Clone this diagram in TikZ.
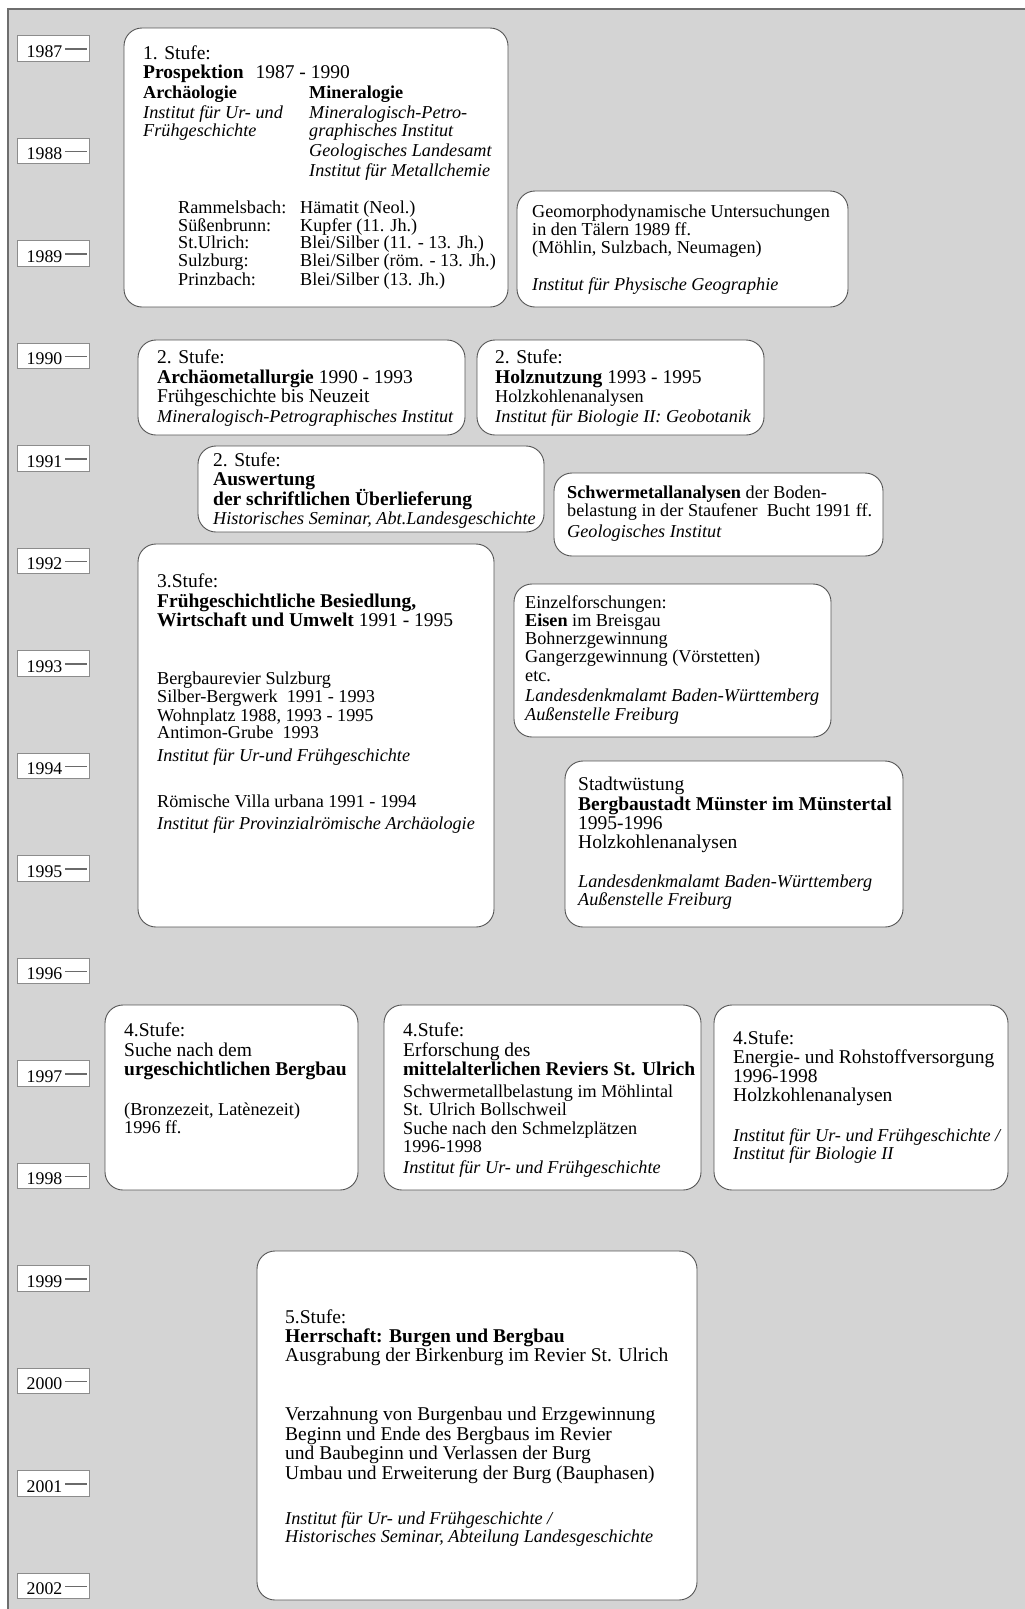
\documentclass[tikz,border=0pt]{standalone}
\usepackage{fontspec}
\setmainfont{Liberation Serif}
\definecolor{bg}{HTML}{D4D4D4}
\definecolor{bgline}{HTML}{6E6E6E}
\definecolor{boxline}{HTML}{555555}
\definecolor{yearline}{HTML}{8C8C8C}
\definecolor{tickgray}{HTML}{6A6A6A}
\newcommand\fsN{\fontsize{18.2pt}{18pt}\selectfont}
\newcommand\fsB{\fontsize{19.5pt}{19.5pt}\selectfont}
\newcommand\fsY{\fontsize{17.8pt}{17.8pt}\selectfont}
\tikzset{
  stage/.style={draw=boxline, fill=white, line width=0.9pt, rounded corners=18pt, inner sep=0pt, outer sep=0pt, anchor=north west},
  yearbox/.style={draw=yearline, fill=white, line width=0.9pt, minimum width=72pt, minimum height=25.5pt, inner sep=0pt},
  yeartxt/.style={anchor=base west, inner sep=0pt, font=\fsY},
  ntx/.style={anchor=base west, inner sep=0pt, font=\fsN},
  btx/.style={anchor=base west, inner sep=0pt, font=\fsB},
  itx/.style={anchor=base west, inner sep=0pt, font=\fsN\itshape},
}
\newcommand\stagebox[5]{\node[stage, minimum width=#4pt, minimum height=#5pt] (#1) at (#2,#3) {};}
\begin{document}
\begin{tikzpicture}[x=1pt, y=-1pt]
\useasboundingbox (0,0) rectangle (1025,1609);
\clip (0,0) rectangle (1025,1609);
% background panel
\fill[bg] (8,9) rectangle (1040,1620);
\draw[bgline, line width=1.2pt] (8,1620) -- (8,9) -- (1040,9);

% year scale
\foreach \yr [count=\k from 0] in {1987,...,2002} {
  \node[yearbox] (yb\yr) at (53, 48.5+102.5*\k) {};
  \node[yeartxt] (yl\yr) at (26.5, 57+102.5*\k) {\yr\hspace{2.8pt}\textcolor{tickgray}{\rule[7.3pt]{21.5pt}{1.3pt}}};
}

% ---------- stage boxes ----------
\stagebox{s1}{124}{28}{384}{279}
\stagebox{s2}{517}{191}{331}{116}
\stagebox{s3}{138}{340}{327}{95}
\stagebox{s4}{477}{340}{287}{95}
\stagebox{s5}{198}{446}{346}{86}
\stagebox{s6}{554}{473}{329}{83}
\stagebox{s7}{138}{544}{356}{383}
\stagebox{s8}{514}{584}{317}{153}
\stagebox{s9}{565}{761}{338}{166}
\stagebox{s10}{105}{1005}{253}{185}
\stagebox{s11}{384}{1005}{317}{185}
\stagebox{s12}{714}{1005}{294}{185}
\stagebox{s13}{257}{1251}{440}{349}

% ---------- box 1 ----------
\node[btx] (b1a) at (143,59.3) {1. Stufe:};
\node[btx] (b1b) at (143,78.3) {\textbf{Prospektion}\hspace{12pt}1987 - 1990};
\node[ntx] (b1c) at (143,98.8) {\textbf{Archäologie}};
\node[ntx] (b1d) at (309,98.8) {\textbf{Mineralogie}};
\node[itx] (b1e) at (143,118.3) {Institut für Ur- und};
\node[itx] (b1f) at (309,118.3) {Mineralogisch-Petro-};
\node[itx] (b1g) at (143,136) {Frühgeschichte};
\node[itx] (b1h) at (309,136) {graphisches Institut};
\node[itx] (b1i) at (309,156.7) {Geologisches Landesamt};
\node[itx] (b1j) at (309,176.7) {Institut für Metallchemie};
\node[ntx] (b1k) at (178,213.3) {Rammelsbach:};
\node[ntx] (b1l) at (300,213.3) {Hämatit (Neol.)};
\node[ntx] (b1m) at (178,231) {Süßenbrunn:};
\node[ntx] (b1n) at (300,231) {Kupfer (11. Jh.)};
\node[ntx] (b1o) at (178,248.7) {St.Ulrich:};
\node[ntx] (b1p) at (300,248.7) {Blei/Silber (11. - 13. Jh.)};
\node[ntx] (b1q) at (178,266.7) {Sulzburg:};
\node[ntx] (b1r) at (300,266.7) {Blei/Silber (röm. - 13. Jh.)};
\node[ntx] (b1s) at (178,285) {Prinzbach:};
\node[ntx] (b1t) at (300,285) {Blei/Silber (13. Jh.)};

% ---------- box 2 ----------
\node[ntx] (b2a) at (532,217.5) {Geomorphodynamische Untersuchungen};
\node[ntx] (b2b) at (532,235.5) {in den Tälern 1989 ff.};
\node[ntx] (b2c) at (532,253.5) {(Möhlin, Sulzbach, Neumagen)};
\node[itx] (b2d) at (532,290) {Institut für Physische Geographie};

% ---------- box 3 ----------
\node[btx] (b3a) at (157,363) {2. Stufe:};
\node[btx] (b3b) at (157,383) {\textbf{Archäometallurgie} 1990 - 1993};
\node[btx] (b3c) at (157,402.5) {Frühgeschichte bis Neuzeit};
\node[itx] (b3d) at (157,422) {Mineralogisch-Petrographisches Institut};

% ---------- box 4 ----------
\node[btx] (b4a) at (495,363) {2. Stufe:};
\node[btx] (b4b) at (495,383) {\textbf{Holznutzung} 1993 - 1995};
\node[ntx] (b4c) at (495,402.5) {Holzkohlenanalysen};
\node[itx] (b4d) at (495,422) {Institut für Biologie II: Geobotanik};

% ---------- box 5 ----------
\node[btx] (b5a) at (213,466) {2. Stufe:};
\node[btx] (b5b) at (213,485.5) {\textbf{Auswertung}};
\node[btx] (b5c) at (213,505) {\textbf{der schriftlichen Überlieferung}};
\node[itx] (b5d) at (213,524.5) {Historisches Seminar, Abt.Landesgeschichte};

% ---------- box 6 ----------
\node[ntx] (b6a) at (567,498) {\textbf{Schwermetallanalysen} der Boden-};
\node[ntx] (b6b) at (567,516) {belastung in der Staufener\ \ Bucht 1991 ff.};
\node[itx] (b6c) at (567,537) {Geologisches Institut};

% ---------- box 7 ----------
\node[btx] (b7a) at (157,587.5) {3.Stufe:};
\node[btx] (b7b) at (157,607) {\textbf{Frühgeschichtliche Besiedlung,}};
\node[btx] (b7c) at (157,626.5) {\textbf{Wirtschaft und Umwelt} 1991 - 1995};
\node[ntx] (b7d) at (157,684) {Bergbaurevier Sulzburg};
\node[ntx] (b7e) at (157,702.5) {Silber-Bergwerk\ \ 1991 - 1993};
\node[ntx] (b7f) at (157,721) {Wohnplatz 1988, 1993 - 1995};
\node[ntx] (b7g) at (157,738.5) {Antimon-Grube\ \ 1993};
\node[itx] (b7h) at (157,761) {Institut für Ur-und Frühgeschichte};
\node[ntx] (b7i) at (157,807) {Römische Villa urbana 1991 - 1994};
\node[itx] (b7j) at (157,829.5) {Institut für Provinzialrömische Archäologie};

% ---------- box 8 ----------
\node[ntx] (b8a) at (525,608) {Einzelforschungen:};
\node[ntx] (b8b) at (525,626) {\textbf{Eisen} im Breisgau};
\node[ntx] (b8c) at (525,644.3) {Bohnerzgewinnung};
\node[ntx] (b8d) at (525,662.7) {Gangerzgewinnung (Vörstetten)};
\node[ntx] (b8e) at (525,681) {etc.};
\node[itx] (b8f) at (525,701.5) {Landesdenkmalamt Baden-Württemberg};
\node[itx] (b8g) at (525,720.2) {Außenstelle Freiburg};

% ---------- box 9 ----------
\node[btx] (b9a) at (578,790.8) {Stadtwüstung};
\node[btx] (b9b) at (578,810) {\textbf{Bergbaustadt Münster im Münstertal}};
\node[btx] (b9c) at (578,829) {1995-1996};
\node[btx] (b9d) at (578,848.8) {Holzkohlenanalysen};
\node[itx] (b9e) at (578,887) {Landesdenkmalamt Baden-Württemberg};
\node[itx] (b9f) at (578,905) {Außenstelle Freiburg};

% ---------- box 10 ----------
\node[btx] (b10a) at (124,1036.4) {4.Stufe:};
\node[btx] (b10b) at (124,1056) {Suche nach dem};
\node[btx] (b10c) at (124,1075.5) {\textbf{urgeschichtlichen Bergbau}};
\node[ntx] (b10d) at (124,1115) {(Bronzezeit, Latènezeit)};
\node[ntx] (b10e) at (124,1133) {1996 ff.};

% ---------- box 11 ----------
\node[btx] (b11a) at (403,1036.4) {4.Stufe:};
\node[btx] (b11b) at (403,1056) {Erforschung des};
\node[btx] (b11c) at (403,1075.5) {\textbf{mittelalterlichen Reviers St. Ulrich}};
\node[ntx] (b11d) at (403,1097.6) {Schwermetallbelastung im Möhlintal};
\node[ntx] (b11e) at (403,1115.5) {St. Ulrich Bollschweil};
\node[ntx] (b11f) at (403,1134) {Suche nach den Schmelzplätzen};
\node[ntx] (b11g) at (403,1152.5) {1996-1998};
\node[itx] (b11h) at (403,1173) {Institut für Ur- und Frühgeschichte};

% ---------- box 12 ----------
\node[btx] (b12a) at (733,1044.2) {4.Stufe:};
\node[btx] (b12b) at (733,1063.6) {Energie- und Rohstoffversorgung};
\node[btx] (b12c) at (733,1082.6) {1996-1998};
\node[btx] (b12d) at (733,1101.8) {Holzkohlenanalysen};
\node[itx] (b12e) at (733,1141) {Institut für Ur- und Frühgeschichte /};
\node[itx] (b12f) at (733,1159.3) {Institut für Biologie II};

% ---------- box 13 ----------
\node[btx] (b13a) at (285,1323) {5.Stufe:};
\node[btx] (b13b) at (285,1342) {\textbf{Herrschaft: Burgen und Bergbau}};
\node[btx] (b13c) at (285,1361) {Ausgrabung der Birkenburg im Revier St. Ulrich};
\node[btx] (b13d) at (285,1420.5) {Verzahnung von Burgenbau und Erzgewinnung};
\node[btx] (b13e) at (285,1440) {Beginn und Ende des Bergbaus im Revier};
\node[btx] (b13f) at (285,1459.5) {und Baubeginn und Verlassen der Burg};
\node[btx] (b13g) at (285,1479) {Umbau und Erweiterung der Burg (Bauphasen)};
\node[itx] (b13h) at (285,1524) {Institut für Ur- und Frühgeschichte /};
\node[itx] (b13i) at (285,1542.5) {Historisches Seminar, Abteilung Landesgeschichte};
\end{tikzpicture}
\end{document}
